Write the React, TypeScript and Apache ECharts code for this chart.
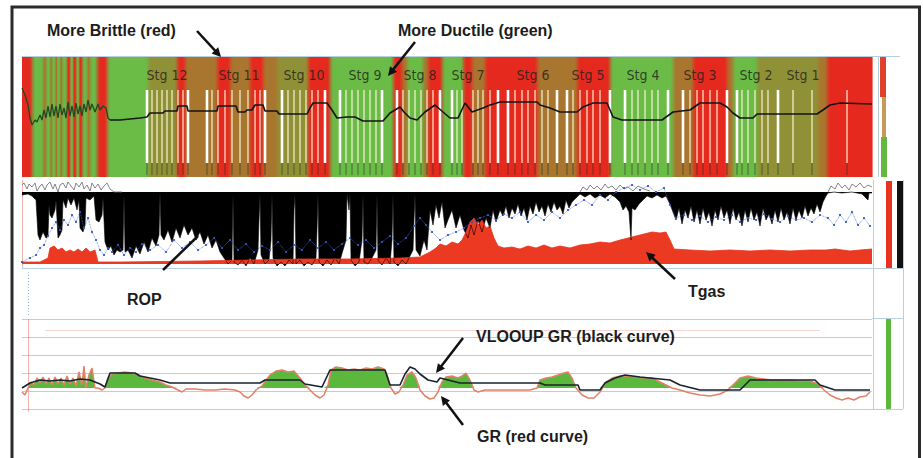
import React, { useEffect, useRef } from "react";
import * as echarts from "echarts";

// ---------- Track 1: brittleness colour bands (depth index 0..850) ----------
const bandEdges = [0, 10, 21, 24, 28, 30, 33, 35, 38, 40, 45, 48, 51, 54, 57, 60, 65, 68, 75, 85, 126, 155, 163, 195, 208, 228, 241, 255, 286, 308, 371, 380, 385, 401, 406, 420, 441, 450, 463, 515, 555, 588, 651, 671, 705, 711, 735, 796, 805, 850];
// R = more brittle (red), G = more ductile (green), B = brown, O = olive
const bandKinds = ["R", "G", "B", "G", "B", "G", "B", "G", "B", "G", "R", "G", "R", "G", "R", "G", "B", "G", "R", "G", "O", "R", "B", "R", "B", "R", "B", "O", "R", "G", "R", "B", "G", "B", "R", "G", "R", "B", "R", "B", "R", "G", "B", "R", "B", "G", "O", "B", "R"];
const bandPalette: Record<string, string> = { R: "#e5291e", G: "#6bbb47", B: "#a8762e", O: "#909136" };

const stageNames = ["Stg 12", "Stg 11", "Stg 10", "Stg 9", "Stg 8", "Stg 7", "Stg 6", "Stg 5", "Stg 4", "Stg 3", "Stg 2", "Stg 1"];
const stageDepth = [145, 217, 282, 343, 398, 446, 511, 566, 621, 678, 734, 781];

const perfEdge = [125, 166, 185, 243, 260, 303, 318, 360, 375, 418, 430, 476, 486, 535, 545, 588, 603, 646, 661, 705, 715, 756];
const perfInner = [130, 135, 140, 145, 150, 156, 161, 190, 196, 203, 210, 218, 226, 233, 238, 266, 272, 278, 284, 290, 296, 324, 330, 336, 342, 348, 354, 381, 387, 393, 399, 405, 411, 435, 440, 451, 456, 461, 468, 493, 500, 506, 513, 520, 526, 551, 558, 565, 571, 578, 610, 616, 623, 630, 636, 668, 675, 681, 688, 695, 720, 726, 733, 740, 746, 771, 790, 825];

const brittleCurveA = [[0, 89], [3, 82], [6, 72], [8, 59], [10, 52], [13, 57], [15, 55], [18, 62], [20, 57], [22, 67], [24, 59], [26, 71], [28, 60], [30, 73], [32, 61], [34, 71], [36, 59], [38, 73], [40, 62], [42, 69], [44, 59], [46, 75], [48, 61], [50, 71], [52, 60], [54, 74], [56, 63], [58, 71], [60, 61], [62, 73], [64, 65], [66, 77], [68, 67], [70, 73], [73, 65], [76, 73], [78, 67], [81, 71], [84, 69], [86, 59], [88, 57]];
const brittleCurveB = [[88, 57], [98, 57], [108, 58], [118, 59], [125, 60], [128, 64], [141, 64], [143, 66], [155, 66], [156, 71], [165, 71], [166, 66], [195, 66], [196, 71], [214, 71], [216, 65], [223, 65], [225, 67], [230, 67], [233, 72], [241, 72], [243, 66], [255, 66], [257, 63], [285, 63], [288, 69], [291, 74], [305, 74], [310, 67], [315, 59], [325, 60], [333, 60], [341, 56], [361, 56], [368, 64], [373, 67], [378, 70], [382, 65], [388, 59], [395, 57], [403, 65], [413, 72], [421, 65], [428, 59], [436, 59], [443, 74], [450, 65], [461, 69], [468, 72], [478, 75], [515, 75], [518, 72], [528, 69], [538, 65], [555, 65], [561, 70], [571, 74], [585, 74], [591, 60], [600, 57], [640, 57], [651, 65], [668, 67], [678, 74], [698, 74], [705, 70], [711, 64], [718, 59], [731, 59], [735, 63], [795, 63], [801, 67], [808, 72], [818, 74], [850, 73]];

// ---------- Track 2: ROP (black), Tgas (red), blue curve ----------
const ropData = [[0, 15], [6, 14], [10, 16], [14, 20], [16, 55], [18, 60], [21, 52], [24, 58], [26, 56], [27, 25], [28, 35], [30, 38], [33, 30], [34, 20], [36, 58], [38, 55], [40, 50], [41, 20], [44, 28], [46, 18], [49, 25], [52, 18], [55, 30], [57, 20], [58, 48], [61, 52], [63, 45], [64, 18], [68, 20], [72, 16], [74, 40], [77, 42], [80, 35], [81, 18], [83, 62], [86, 70], [89, 66], [92, 75], [95, 70], [98, 72], [101, 70], [102, 15], [103, 72], [106, 70], [110, 78], [114, 66], [118, 74], [122, 62], [126, 72], [130, 58], [134, 66], [137, 55], [138, 12], [139, 55], [142, 60], [146, 50], [150, 62], [154, 48], [158, 58], [162, 45], [166, 55], [170, 48], [174, 60], [178, 52], [182, 64], [186, 55], [190, 68], [194, 60], [198, 72], [202, 78], [206, 84], [210, 80], [211, 14], [212, 82], [216, 85], [220, 80], [224, 86], [228, 78], [232, 84], [236, 70], [237, 40], [238, 14], [239, 75], [243, 84], [247, 80], [249, 60], [250, 14], [251, 78], [255, 86], [259, 82], [263, 86], [267, 80], [271, 84], [272, 30], [273, 14], [274, 84], [278, 80], [282, 86], [286, 82], [290, 85], [294, 78], [295, 50], [296, 14], [297, 82], [301, 86], [305, 80], [309, 85], [313, 78], [317, 84], [321, 70], [324, 60], [325, 14], [327, 30], [328, 14], [329, 80], [333, 86], [337, 82], [340, 60], [341, 14], [342, 82], [346, 84], [350, 78], [354, 70], [355, 14], [356, 80], [360, 85], [364, 78], [368, 84], [370, 60], [371, 14], [372, 82], [376, 86], [380, 80], [384, 84], [388, 76], [391, 70], [392, 40], [393, 14], [394, 70], [398, 76], [402, 60], [405, 70], [408, 30], [411, 45], [414, 25], [417, 38], [420, 22], [423, 48], [426, 40], [430, 30], [434, 48], [438, 35], [442, 50], [446, 58], [449, 45], [452, 55], [456, 40], [460, 52], [464, 38], [468, 48], [471, 30], [474, 42], [478, 30], [481, 36], [484, 26], [487, 38], [490, 28], [493, 34], [496, 24], [499, 36], [502, 28], [505, 40], [508, 26], [511, 34], [514, 22], [517, 32], [520, 26], [523, 36], [526, 24], [529, 32], [532, 22], [535, 30], [538, 26], [541, 34], [544, 20], [547, 28], [550, 22], [554, 18], [558, 14], [563, 17], [568, 14], [573, 18], [578, 15], [583, 18], [588, 14], [593, 17], [598, 22], [601, 30], [604, 26], [607, 32], [609, 60], [610, 28], [613, 30], [617, 24], [621, 20], [625, 16], [630, 18], [635, 15], [640, 18], [644, 16], [648, 24], [651, 32], [654, 40], [657, 28], [660, 44], [663, 30], [666, 38], [669, 26], [672, 42], [675, 30], [678, 44], [681, 28], [684, 40], [687, 32], [690, 46], [693, 30], [696, 40], [699, 26], [702, 38], [705, 30], [708, 44], [711, 28], [714, 40], [717, 32], [720, 46], [723, 30], [726, 42], [729, 28], [732, 40], [735, 32], [738, 46], [741, 28], [744, 40], [747, 34], [750, 44], [753, 30], [756, 42], [759, 28], [762, 40], [765, 32], [768, 44], [771, 28], [774, 40], [777, 30], [780, 38], [783, 26], [786, 36], [789, 28], [792, 34], [795, 24], [798, 32], [801, 22], [804, 16], [806, 13], [812, 12], [820, 13], [830, 12], [840, 14], [846, 20], [847, 13], [850, 13]];
const tgasData = [[0, 82], [18, 82], [26, 78], [28, 68], [32, 66], [36, 70], [40, 68], [44, 72], [48, 70], [52, 72], [56, 69], [60, 72], [64, 68], [68, 72], [73, 70], [76, 82], [98, 82], [178, 81], [228, 80], [278, 79], [328, 79], [378, 78], [398, 77], [408, 72], [414, 68], [418, 64], [424, 66], [430, 62], [436, 64], [440, 60], [444, 52], [448, 42], [452, 38], [456, 45], [460, 40], [464, 48], [468, 46], [472, 58], [476, 66], [482, 68], [490, 67], [498, 69], [506, 66], [514, 68], [522, 65], [530, 68], [538, 66], [548, 68], [558, 65], [568, 64], [578, 62], [588, 63], [598, 60], [606, 58], [614, 56], [622, 54], [630, 52], [638, 53], [644, 52], [648, 60], [652, 69], [668, 70], [688, 71], [708, 70], [728, 71], [748, 70], [768, 71], [788, 70], [804, 70], [813, 69], [828, 71], [838, 70], [850, 69]];
const blueData = [[0, 82], [8, 78], [14, 75], [18, 68], [22, 65], [26, 56], [30, 48], [34, 42], [38, 50], [42, 40], [46, 45], [50, 35], [54, 42], [58, 32], [62, 48], [66, 38], [70, 52], [74, 60], [78, 70], [82, 75], [86, 68], [90, 72], [96, 65], [102, 75], [108, 68], [114, 72], [120, 64], [128, 70], [136, 65], [144, 72], [152, 60], [160, 68], [168, 62], [176, 70], [184, 65], [192, 58], [200, 68], [208, 60], [216, 70], [224, 64], [232, 72], [240, 66], [248, 70], [256, 62], [264, 72], [272, 65], [280, 70], [288, 60], [296, 68], [304, 62], [312, 70], [320, 64], [328, 58], [336, 65], [344, 60], [352, 68], [360, 62], [368, 56], [376, 64], [384, 58], [392, 46], [398, 38], [404, 45], [410, 52], [418, 60], [426, 55], [434, 52], [442, 48], [450, 42], [458, 38], [466, 35], [474, 40], [482, 34], [490, 38], [498, 32], [506, 42], [514, 35], [522, 40], [530, 32], [538, 38], [546, 30], [554, 25], [562, 20], [570, 25], [578, 15], [586, 20], [594, 12], [602, 8], [610, 5], [618, 10], [626, 6], [634, 12], [642, 8], [648, 25], [654, 38], [662, 35], [670, 40], [678, 36], [686, 42], [694, 37], [702, 40], [710, 35], [718, 42], [726, 38], [734, 40], [742, 34], [750, 39], [758, 42], [766, 36], [774, 40], [782, 38], [790, 42], [798, 35], [806, 38], [812, 45], [818, 35], [824, 42], [830, 32], [836, 45], [842, 38], [848, 46]];
const noiseA = [[0, 5], [2, 3], [5, 9], [7, 4], [10, 7], [13, 3], [15, 11], [18, 6], [20, 4], [23, 10], [25, 5], [28, 2], [31, 9], [33, 4], [36, 12], [38, 5], [41, 3], [44, 8], [46, 2], [49, 6], [52, 10], [54, 3], [57, 7], [60, 2], [62, 9], [65, 5], [68, 11], [70, 3], [73, 8], [76, 4], [79, 10], [82, 6], [85, 3], [88, 9], [92, 12], [100, 12]];
const noiseB = [[558, 12], [561, 7], [565, 10], [568, 5], [572, 9], [575, 6], [579, 10], [583, 4], [586, 8], [590, 6], [594, 10], [598, 5], [602, 9], [606, 7], [611, 11], [616, 6], [622, 9], [628, 11]];
const noiseC = [[806, 12], [809, 6], [813, 9], [816, 3], [820, 8], [823, 5], [827, 10], [830, 4], [834, 7], [838, 3], [842, 8], [846, 5], [850, 7]];

// ---------- Track 4: GR (red) and VLOOKUP GR (black) ----------
const grBase = 21;
const grData = [[0, 17], [3, 14], [6, 21], [9, 27], [12, 24], [15, 31], [18, 26], [21, 32], [24, 25], [27, 31], [30, 24], [33, 32], [36, 25], [39, 31], [42, 24], [45, 33], [48, 25], [51, 31], [54, 23], [57, 37], [60, 24], [62, 43], [64, 21], [67, 34], [70, 41], [73, 21], [76, 21], [80, 19], [83, 21], [86, 31], [90, 35], [96, 36], [103, 37], [110, 36], [116, 34], [123, 31], [130, 29], [138, 27], [144, 24], [150, 22], [156, 19], [160, 17], [164, 20], [173, 20], [183, 19], [193, 19], [203, 20], [213, 19], [218, 17], [222, 13], [226, 11], [230, 14], [234, 19], [240, 23], [244, 29], [248, 34], [254, 38], [260, 39], [266, 37], [272, 38], [278, 31], [283, 24], [288, 19], [293, 14], [298, 11], [302, 14], [306, 24], [309, 39], [314, 42], [320, 41], [326, 39], [332, 40], [338, 39], [344, 41], [350, 40], [356, 42], [362, 40], [365, 34], [369, 21], [373, 15], [377, 17], [381, 24], [385, 34], [390, 37], [394, 31], [398, 19], [403, 13], [408, 10], [412, 11], [416, 17], [420, 27], [424, 32], [430, 33], [436, 31], [440, 33], [444, 36], [448, 29], [452, 19], [456, 17], [463, 19], [478, 19], [493, 19], [508, 19], [515, 21], [518, 29], [524, 31], [530, 32], [536, 34], [542, 36], [546, 37], [550, 31], [554, 21], [560, 14], [566, 11], [572, 11], [578, 17], [584, 27], [590, 31], [598, 33], [606, 33], [614, 32], [622, 31], [630, 31], [638, 27], [644, 24], [650, 21], [658, 19], [668, 16], [678, 14], [688, 13], [698, 15], [706, 19], [712, 25], [718, 31], [726, 33], [734, 31], [742, 30], [750, 29], [758, 29], [768, 29], [778, 28], [788, 28], [796, 25], [802, 19], [808, 14], [814, 11], [820, 9], [826, 11], [832, 9], [838, 12], [844, 13], [848, 17]];
const vlookupData = [[0, 21], [8, 26], [18, 29], [28, 28], [38, 29], [48, 28], [58, 30], [68, 29], [78, 25], [83, 22], [88, 36], [113, 36], [118, 33], [128, 31], [138, 29], [148, 26], [238, 26], [243, 29], [278, 29], [283, 25], [300, 22], [308, 39], [363, 39], [368, 24], [378, 24], [383, 35], [388, 42], [393, 40], [398, 35], [406, 29], [415, 27], [418, 31], [438, 26], [518, 26], [523, 24], [556, 24], [558, 19], [578, 19], [583, 26], [593, 31], [603, 34], [618, 32], [648, 29], [658, 24], [678, 19], [718, 19], [723, 24], [728, 29], [793, 29], [798, 24], [813, 19], [848, 19]];

const ANNO_FONT = 'bold 16px "Liberation Sans", Arial, Helvetica, sans-serif';

function mix(a: string, b: string): string {
  const pa = [1, 3, 5].map((i) => parseInt(a.slice(i, i + 2), 16));
  const pb = [1, 3, 5].map((i) => parseInt(b.slice(i, i + 2), 16));
  return `rgb(${pa.map((v, i) => Math.round((v + pb[i]) / 2)).join(",")})`;
}

function arrow(x1: number, y1: number, x2: number, y2: number, head = true): any[] {
  const dx = x2 - x1, dy = y2 - y1;
  const len = Math.hypot(dx, dy);
  const ux = dx / len, uy = dy / len;
  const L = 9, W = 4.5;
  const bx = x2 - ux * L, by = y2 - uy * L;
  const els: any[] = [{
    type: "line", z: 100,
    shape: { x1, y1, x2: head ? bx + ux * 2 : x2, y2: head ? by + uy * 2 : y2 },
    style: { stroke: "#111", lineWidth: 2.5 },
  }];
  if (head) {
    els.push({
      type: "polygon", z: 100,
      shape: { points: [[x2, y2], [bx - uy * W, by + ux * W], [bx + uy * W, by - ux * W]] },
      style: { fill: "#111" },
    });
  }
  return els;
}

function label(text: string, x: number, y: number): any {
  return { type: "text", z: 100, x, y, style: { text, font: ANNO_FONT, fill: "#1c1c1c", verticalAlign: "middle" } };
}

function hline(x1: number, x2: number, y: number, color: string): any {
  return { type: "line", z: 1, shape: { x1, y1: y, x2, y2: y }, style: { stroke: color, lineWidth: 1 } };
}
function vline(x: number, y1: number, y2: number, color: string, dash?: number[]): any {
  return { type: "line", z: 1, shape: { x1: x, y1, x2: x, y2 }, style: { stroke: color, lineWidth: 1, lineDash: dash } };
}

export default function App() {
  const ref = useRef<HTMLDivElement>(null);

  useEffect(() => {
    if (!ref.current) return;
    const chart = echarts.init(ref.current, null, { renderer: "svg" });

    const bandItems = bandKinds.map((_, i) => [bandEdges[i], bandEdges[i + 1]]);
    const perfItems = [...perfEdge.map((d) => [d, 1]), ...perfInner.map((d) => [d, 0])];
    const grFill = grData.map(([d, v]) => [d, Math.max(v, grBase)]);

    const hiddenX = (gi: number) => ({ type: "value", gridIndex: gi, min: 0, max: 850, show: false });
    const lightBlue = "#b9cfe0";

    const option: any = {
      animation: false,
      backgroundColor: "#ffffff",
      grid: [
        { left: 22, top: 57, width: 850, height: 120 },
        { left: 22, top: 180, width: 850, height: 88 },
        { left: 22, top: 319, width: 850, height: 90 },
      ],
      xAxis: [hiddenX(0), hiddenX(1), hiddenX(2)],
      yAxis: [
        { type: "value", gridIndex: 0, min: 0, max: 120, show: false },
        { type: "value", gridIndex: 1, min: 0, max: 88, inverse: true, show: false },
        {
          type: "value", gridIndex: 2, min: 0, max: 90, interval: 18,
          axisLine: { show: false }, axisTick: { show: false }, axisLabel: { show: false },
          splitLine: { show: true, lineStyle: { color: lightBlue, width: 1 } },
        },
      ],
      series: [
        {
          type: "custom", name: "bands", xAxisIndex: 0, yAxisIndex: 0, data: bandItems,
          encode: { x: [0, 1] }, silent: true,
          renderItem: (params: any, api: any) => {
            const i = params.dataIndex;
            const a = api.coord([api.value(0), 120]);
            const b = api.coord([api.value(1), 0]);
            const w = b[0] - a[0] + 0.6;
            const cur = bandPalette[bandKinds[i]];
            const prev = i > 0 ? bandPalette[bandKinds[i - 1]] : cur;
            const next = i < bandKinds.length - 1 ? bandPalette[bandKinds[i + 1]] : cur;
            const f = Math.min(0.45, 3 / w);
            const fill = new echarts.graphic.LinearGradient(0, 0, 1, 0, [
              { offset: 0, color: mix(prev, cur) },
              { offset: f, color: cur },
              { offset: 1 - f, color: cur },
              { offset: 1, color: mix(cur, next) },
            ]);
            return {
              type: "rect",
              shape: { x: a[0], y: a[1], width: w, height: b[1] - a[1] },
              style: { fill },
            };
          },
        },
        {
          type: "line", xAxisIndex: 0, yAxisIndex: 0, data: brittleCurveA, showSymbol: false,
          lineStyle: { color: "#1f4a22", width: 1.3 },
        },
        {
          type: "line", xAxisIndex: 0, yAxisIndex: 0, data: brittleCurveB, showSymbol: false,
          lineStyle: { color: "#151515", width: 1.6 },
        },
        {
          type: "custom", name: "perfs", xAxisIndex: 0, yAxisIndex: 0, data: perfItems,
          encode: { x: 0 }, silent: true,
          renderItem: (_params: any, api: any) => {
            const d = api.value(0);
            const edge = api.value(1) === 1;
            const top = api.coord([d, 87]);
            const bot = api.coord([d, 14]);
            const tick = api.coord([d, 2]);
            const w = edge ? 2.6 : 1.4;
            return {
              type: "group",
              children: [
                {
                  type: "rect",
                  shape: { x: top[0] - w / 2, y: top[1], width: w, height: bot[1] - top[1] },
                  style: { fill: edge ? "#ffffff" : "rgba(255,250,220,0.8)" },
                },
                {
                  type: "rect",
                  shape: { x: top[0] - 0.5, y: bot[1], width: 1, height: tick[1] - bot[1] },
                  style: { fill: "rgba(30,50,25,0.55)" },
                },
              ],
            };
          },
        },
        {
          type: "scatter", xAxisIndex: 0, yAxisIndex: 0, symbolSize: 1,
          itemStyle: { color: "rgba(0,0,0,0)" },
          data: stageNames.map((n, i) => ({ name: n, value: [stageDepth[i], 102] })),
          label: {
            show: true, position: "inside", formatter: "{b}", color: "#1e1e1e", fontSize: 14,
            fontFamily: '"Liberation Sans Narrow", "DejaVu Sans Condensed", "Arial Narrow", sans-serif',
          },
        },
        // Track 2
        {
          type: "line", xAxisIndex: 1, yAxisIndex: 1, data: blueData, showSymbol: true,
          symbol: "circle", symbolSize: 2.2, itemStyle: { color: "#2f57c9" },
          lineStyle: { color: "#4a6fd6", width: 0.8, type: "dotted" },
        },
        {
          type: "line", xAxisIndex: 1, yAxisIndex: 1, data: ropData, showSymbol: false,
          lineStyle: { color: "#000", width: 0.6 },
          areaStyle: { color: "#000", opacity: 1, origin: 12 },
        },
        {
          type: "line", xAxisIndex: 1, yAxisIndex: 1, data: tgasData, showSymbol: false,
          lineStyle: { color: "#e8321f", width: 0.8 },
          areaStyle: { color: "#ec3a22", opacity: 1, origin: 84 },
        },
        ...[noiseA, noiseB, noiseC].map((d) => ({
          type: "line", xAxisIndex: 1, yAxisIndex: 1, data: d, showSymbol: false,
          lineStyle: { color: "#666", width: 0.8 },
        })),
        // Track 4
        {
          type: "line", xAxisIndex: 2, yAxisIndex: 2, data: grFill, showSymbol: false,
          lineStyle: { width: 0 },
          areaStyle: { color: "#5cb83c", opacity: 1, origin: grBase },
        },
        {
          type: "line", xAxisIndex: 2, yAxisIndex: 2, data: grData, showSymbol: false,
          lineStyle: { color: "#e3806a", width: 1.5 },
        },
        {
          type: "line", xAxisIndex: 2, yAxisIndex: 2, data: vlookupData, showSymbol: false,
          lineStyle: { color: "#17232e", width: 1.6 },
        },
      ],
      graphic: [
        // outer frame
        { type: "rect", z: 90, shape: { x: 12, y: 7, width: 907.5, height: 480 }, style: { fill: "none", stroke: "#2b2b2b", lineWidth: 3 } },
        // track frame lines
        hline(22, 900, 56.5, lightBlue),
        hline(22, 903, 268.5, lightBlue),
        hline(872, 903, 318.5, lightBlue),
        hline(22, 903, 409.5, lightBlue),
        vline(873.5, 180, 409, lightBlue),
        vline(878.5, 57, 177, lightBlue),
        vline(903.5, 180, 409, lightBlue),
        vline(22.5, 180, 268, "rgba(235,130,120,0.6)"),
        vline(28.5, 272, 316, "rgba(80,120,190,0.6)", [1, 2]),
        vline(28.5, 319, 412, "rgba(235,130,120,0.6)"),
        hline(45, 820, 330.5, "rgba(235,140,130,0.35)"),
        // right-hand narrow tracks
        { type: "rect", z: 2, shape: { x: 880, y: 57, width: 6, height: 40 }, style: { fill: "#e0412c" } },
        { type: "rect", z: 2, shape: { x: 882, y: 97, width: 4, height: 40 }, style: { fill: "#c79a5a" } },
        { type: "rect", z: 2, shape: { x: 881, y: 137, width: 6, height: 40 }, style: { fill: "#62b840" } },
        { type: "rect", z: 2, shape: { x: 886, y: 181, width: 6, height: 87 }, style: { fill: "#e8321f" } },
        { type: "rect", z: 2, shape: { x: 897, y: 181, width: 6, height: 87 }, style: { fill: "#111111" } },
        vline(899.5, 212, 248, "#777"),
        { type: "rect", z: 2, shape: { x: 886, y: 319, width: 5, height: 90 }, style: { fill: "#5cb83c" } },
        // annotations
        label("More Brittle (red)", 47, 30),
        label("More Ductile (green)", 398, 30),
        label("ROP", 127, 299),
        label("Tgas", 688, 291),
        label("VLOOUP GR (black curve)", 476, 336),
        label("GR (red curve)", 477, 436),
        ...arrow(197, 31, 221, 57),
        ...arrow(415, 42, 388, 76),
        ...arrow(163, 270, 198, 236, false),
        ...arrow(675, 279, 646, 252),
        ...arrow(463, 338, 436, 373),
        ...arrow(463, 425, 441, 396),
      ],
    };

    chart.setOption(option);
    return () => chart.dispose();
  }, []);

  return (
    <div
      ref={ref}
      style={{ position: "absolute", left: 0, top: 0, width: 923, height: 458, background: "#ffffff" }}
    />
  );
}
